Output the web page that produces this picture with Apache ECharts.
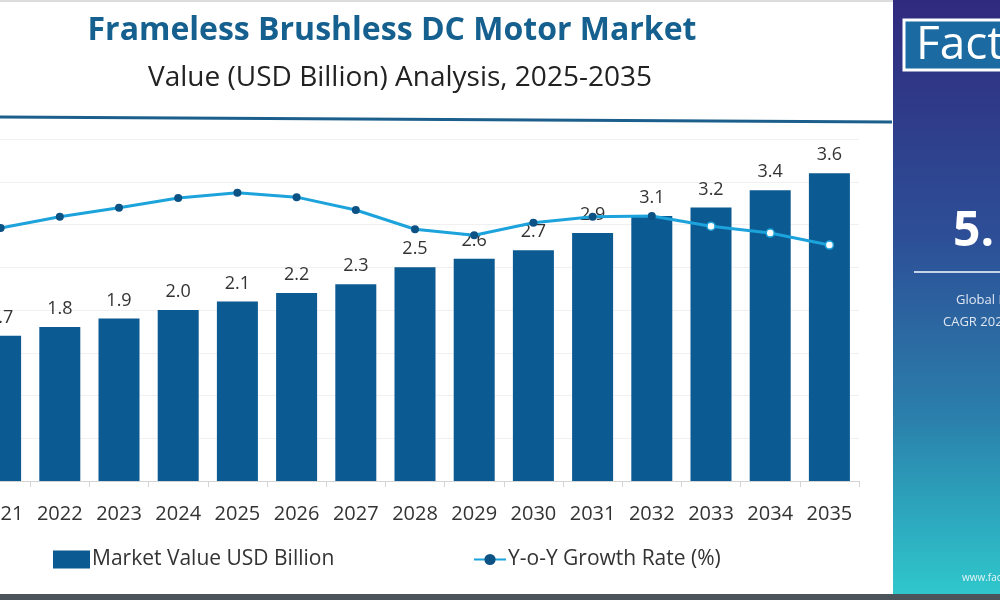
<!DOCTYPE html>
<html>

<head>
    <meta charset="utf-8">
    <title>Frameless Brushless DC Motor Market</title>
    <script src="https://cdn.jsdelivr.net/npm/echarts@6/dist/echarts.min.js"></script>
    <style>
        html, body { margin: 0; padding: 0; background: #fff; }
    </style>
</head>

<body>
    <div id="main" style="width: 1000px;height:600px;"></div>
</body>
<script type="text/javascript">
    // years on the x axis (2021 is cut at the left edge in the source picture)
    var years = ['2021', '2022', '2023', '2024', '2025', '2026', '2027', '2028',
        '2029', '2030', '2031', '2032', '2033', '2034', '2035'];
    // market value, USD billion
    var marketValue = [1.7, 1.8, 1.9, 2.0, 2.1, 2.2, 2.3, 2.5, 2.6, 2.7, 2.9, 3.1, 3.2, 3.4, 3.6];
    // y-o-y growth rate in % (its axis is hidden)
    var growthRate = [5.92, 6.18, 6.39, 6.62, 6.74, 6.64, 6.34, 5.89, 5.75, 6.04, 6.18, 6.2, 5.96, 5.8, 5.52];
    // last points are drawn as hollow markers
    var hollowFrom = 12;

    var barColor = '#0b5a92';
    var lineColor = '#1da3dc';
    var font = 'Open Sans';

    var lineData = growthRate.map(function(v, i) {
        if (i < hollowFrom) return v;
        return {
            value: v,
            itemStyle: { color: '#ffffff', borderColor: lineColor, borderWidth: 1.5 }
        };
    });

    var chart = echarts.init(document.getElementById('main'));
    chart.setOption({
        backgroundColor: '#fff',
        animation: false,
        title: [{
            text: 'Frameless Brushless DC Motor Market',
            left: 387,
            top: 10,
            textAlign: 'center',
            textStyle: { fontFamily: font, fontSize: 32, fontWeight: 'bold', color: '#15608f' }
        }, {
            text: 'Value (USD Billion) Analysis, 2025-2035',
            left: 395,
            top: 59,
            textAlign: 'center',
            textStyle: { fontFamily: font, fontSize: 28, fontWeight: 'normal', color: '#222' }
        }],
        grid: {
            left: -29,
            right: 141,
            top: 139,
            bottom: 119,
            containLabel: false,
            outerBoundsMode: 'none'
        },
        legend: [{
            data: ['Market Value USD Billion'],
            icon: 'rect',
            left: 48,
            top: 544,
            itemWidth: 37,
            itemHeight: 18,
            itemGap: 4,
            textStyle: { fontFamily: font, fontSize: 21, color: '#333', padding: [0, 0, 0, -3] }
        }, {
            data: ['Y-o-Y Growth Rate (%)'],
            left: 468,
            top: 544,
            itemWidth: 32,
            itemHeight: 14,
            textStyle: { fontFamily: font, fontSize: 21, color: '#333', padding: [0, 0, 0, -3] }
        }],
        xAxis: {
            type: 'category',
            data: years,
            axisLine: { lineStyle: { color: '#d4d4d4' } },
            axisTick: { show: true, length: 6, lineStyle: { color: '#d4d4d4' } },
            axisLabel: { fontFamily: font, fontSize: 20, color: '#333', margin: 23, interval: 0 }
        },
        yAxis: [{
            type: 'value',
            min: 0,
            max: 4,
            interval: 0.5,
            axisLine: { show: false },
            axisTick: { show: false },
            axisLabel: { show: false },
            splitLine: { lineStyle: { color: '#f0f0f0' } }
        }, {
            type: 'value',
            min: 0,
            max: 8,
            show: false,
            splitLine: { show: false }
        }],
        series: [{
            name: 'Market Value USD Billion',
            type: 'bar',
            data: marketValue,
            barWidth: 41,
            itemStyle: { color: barColor },
            label: {
                show: true,
                position: 'top',
                distance: 9,
                fontFamily: font,
                fontSize: 18,
                color: '#333',
                formatter: function(p) { return p.value.toFixed(1); }
            }
        }, {
            name: 'Y-o-Y Growth Rate (%)',
            type: 'line',
            yAxisIndex: 1,
            data: lineData,
            symbol: 'circle',
            symbolSize: 8,
            lineStyle: { color: lineColor, width: 3 },
            itemStyle: { color: '#0d5285' },
            z: 5
        }],
        graphic: [
            // header rule under the titles
            {
                type: 'line',
                shape: { x1: 0, y1: 117, x2: 892, y2: 122 },
                style: { stroke: '#1c5f8c', lineWidth: 3 }
            },
            { type: 'rect', shape: { x: 0, y: 0, width: 1000, height: 2 }, style: { fill: '#dcdcdc' } },
            { type: 'rect', shape: { x: 0, y: 594, width: 1000, height: 6 }, style: { fill: '#4b535b' } },
            // right side panel
            {
                type: 'rect',
                shape: { x: 893, y: 0, width: 107, height: 594 },
                style: {
                    fill: new echarts.graphic.LinearGradient(0, 0, 0, 1, [
                        { offset: 0, color: '#302a7e' },
                        { offset: 0.4, color: '#2d4f97' },
                        { offset: 0.7, color: '#2a7fab' },
                        { offset: 1, color: '#2fc7cc' }
                    ])
                }
            },
            {
                type: 'rect',
                shape: { x: 904, y: 20, width: 120, height: 50 },
                style: { fill: '#1b6ba2', stroke: '#fff', lineWidth: 3 }
            },
            {
                type: 'text',
                x: 916,
                y: 46,
                style: { text: 'Fact', fill: '#fff', font: '46px "Open Sans"', textVerticalAlign: 'middle' }
            },
            {
                type: 'text',
                x: 953,
                y: 232,
                style: { text: '5.', fill: '#fff', font: 'bold 48px "Open Sans"', textVerticalAlign: 'middle' }
            },
            {
                type: 'line',
                shape: { x1: 914, y1: 272, x2: 1000, y2: 272 },
                style: { stroke: '#c8d4ea', lineWidth: 2 }
            },
            {
                type: 'text',
                x: 956,
                y: 300,
                style: { text: 'Global Market', fill: '#dfe6f2', font: '13px "Open Sans"', textVerticalAlign: 'middle' }
            },
            {
                type: 'text',
                x: 943,
                y: 322,
                style: { text: 'CAGR 2025-2035', fill: '#dfe6f2', font: '13px "Open Sans"', textVerticalAlign: 'middle' }
            },
            {
                type: 'text',
                x: 962,
                y: 578,
                style: { text: 'www.factmr.com', fill: '#e6f4f6', font: '10px "Open Sans"', textVerticalAlign: 'middle' }
            }
        ]
    });
</script>

</html>
